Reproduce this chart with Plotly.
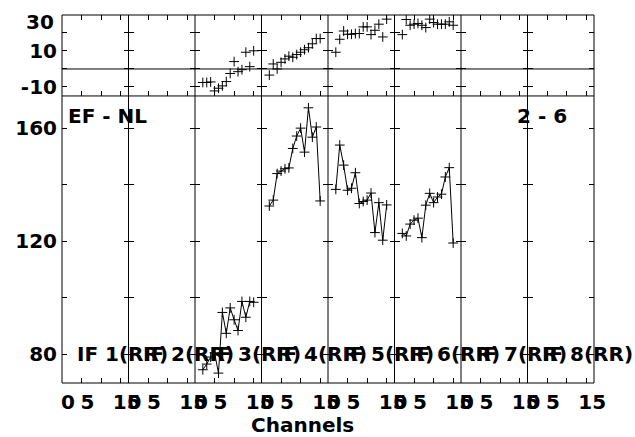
import plotly.graph_objects as go
from plotly.subplots import make_subplots

# ---------------- data ----------------
if_labels = ["IF 1(RR)", "IF 2(RR)", "IF 3(RR)", "IF 4(RR)",
             "IF 5(RR)", "IF 6(RR)", "IF 7(RR)", "IF 8(RR)"]
channels = [2, 3, 4, 5, 6, 7, 8, 9, 10, 11, 12, 13, 14, 15]

# top panel values, by IF index (1-based)
top_if3 = [-7.5, -7.5, -7.2, -12.2, -10.7, -9.4, -7.0, -2.5, 4.1, -1.5, -0.4, 9.3, 1.3, 10.1]
top_if4 = [-3.4, 2.8, 0.0, 3.7, 5.6, 7.1, 6.5, 8.0, 9.3, 10.7, 11.8, 14.0, 16.9, 16.9]
top_if5 = [9.3, 16.5, 21.1, 19.3, 19.3, 19.7, 19.7, 23.4, 23.4, 19.1, 21.5, 24.9, 17.8, 27.7]
top_if6 = [19.1, 27.5, 24.3, 24.9, 25.3, 24.3, 23.0, 27.7, 25.8, 24.9, 24.9, 24.9, 26.2, 24.3]

# bottom panel values
bot_if3 = [74.5, 76.5, 79.0, 80.5, 73.3, 94.8, 87.4, 96.4, 92.2, 88.4, 98.7, 93.1, 98.7, 98.4]
bot_if4 = [132.5, 134.6, 144.0, 144.9, 145.7, 146.0, 152.9, 157.3, 160.1, 151.6, 167.3, 156.9, 160.5, 134.3]
bot_if5 = [138.4, 154.1, 147.0, 138.1, 138.8, 144.3, 133.4, 134.1, 134.6, 137.1, 123.1, 133.7, 120.4, 132.9]
bot_if6 = [122.8, 121.9, 126.1, 127.5, 128.2, 121.3, 132.8, 137.0, 133.7, 135.7, 136.7, 142.8, 146.1, 119.4]

top_series = {3: top_if3, 4: top_if4, 5: top_if5, 6: top_if6}
bot_series = {3: bot_if3, 4: bot_if4, 5: bot_if5, 6: bot_if6}

x_tickvals = [0, 5, 10, 15]
x_ticktext = ["0", "5", "", "15"]
top_tickvals = [-10, 0, 10, 20, 30]
top_ticktext = ["-10", "", "10", "", ""]
top_max_label = "30"
bot_tickvals = [80, 100, 120, 140, 160]
bot_ticktext = ["80", "", "120", "", "160"]

corner_left = "EF - NL"
corner_right = "2 - 6"
x_title = "Channels"

# ---------------- figure ----------------
NCOL = 8
ROW_SPLIT = 0.78
fig = make_subplots(rows=2, cols=NCOL, row_heights=[1 - ROW_SPLIT, ROW_SPLIT],
                    horizontal_spacing=0, vertical_spacing=0)

FONT = "DejaVu Sans"
marker = dict(symbol="cross-thin", size=7, line=dict(color="black", width=1), color="black")

for row in (1, 2):
    series = top_series if row == 1 else bot_series
    for c in range(1, NCOL + 1):
        if c in series:
            fig.add_trace(go.Scatter(x=channels, y=series[c],
                                     mode="markers" if row == 1 else "lines+markers",
                                     marker=marker, line=dict(color="black", width=1),
                                     showlegend=False), row=row, col=c)
        else:
            fig.add_trace(go.Scatter(x=[None], y=[None], mode="markers",
                                     showlegend=False, hoverinfo="skip"), row=row, col=c)

tickfont = dict(family=FONT, size=20, color="black", weight="bold")
common = dict(ticks="inside", ticklen=5, tickcolor="black", showline=False,
              showgrid=False, zeroline=False, automargin=False)
for c in range(1, NCOL + 1):
    fig.update_xaxes(range=[0, 17], tickvals=x_tickvals, mirror="ticks",
                     showticklabels=False, row=1, col=c, **common)
    fig.update_xaxes(range=[0, 17], tickvals=x_tickvals, ticktext=x_ticktext,
                     mirror=False, tickfont=tickfont, ticklabelshift=6,
                     ticklabelstandoff=5, row=2, col=c, **common)
    fig.update_yaxes(range=[-15, 30], tickvals=top_tickvals, ticktext=top_ticktext,
                     mirror="ticks", showticklabels=(c == 1), tickfont=tickfont,
                     ticklabelstandoff=4, row=1, col=c, **common)
    fig.update_yaxes(range=[69.8, 171.5], tickvals=bot_tickvals, ticktext=bot_ticktext,
                     mirror="ticks", showticklabels=(c == 1), tickfont=tickfont,
                     ticklabelstandoff=4, row=2, col=c, **common)

# panel frames (single crisp lines shared by neighbouring panels)
frame = dict(color="black", width=1)
for k in range(NCOL + 1):
    fig.add_shape(type="line", xref="paper", yref="paper", x0=k / NCOL, x1=k / NCOL,
                  y0=0, y1=1, line=frame, layer="above")
for yy in (0, ROW_SPLIT, 1):
    fig.add_shape(type="line", xref="paper", yref="paper", x0=0, x1=1,
                  y0=yy, y1=yy, line=frame, layer="above")
# zero reference line across the top panel
fig.add_shape(type="line", xref="paper", yref="y", x0=0, x1=1, y0=0, y1=0,
              line=frame)

annfont = dict(family=FONT, size=20, color="black", weight="bold")
fig.add_annotation(text=top_max_label, xref="paper", yref="y", x=-0.012, y=26,
                   xanchor="right", yanchor="middle", showarrow=False, font=annfont)

for i, lab in enumerate(if_labels):
    n = NCOL + i + 1
    fig.add_annotation(text=lab, xref=f"x{n}", yref=f"y{n}", x=3.3, y=80,
                       xanchor="left", yanchor="middle", showarrow=False, font=annfont)

fig.add_annotation(text=corner_left, xref="x9", yref="y9", x=1.0, y=164.3,
                   xanchor="left", yanchor="middle", showarrow=False, font=annfont)
fig.add_annotation(text=corner_right, xref="x16", yref="y16", x=10.6, y=164.3,
                   xanchor="right", yanchor="middle", showarrow=False, font=annfont)
fig.add_annotation(text=x_title, xref="paper", yref="paper", x=0.452, y=-0.115,
                   xanchor="center", yanchor="middle", showarrow=False, font=annfont)

fig.update_layout(width=635, height=437, margin=dict(l=62, r=41, t=15, b=54),
                  paper_bgcolor="white", plot_bgcolor="white", showlegend=False)

fig.write_html("out.html", config={"displayModeBar": False},
               post_script="document.body.style.margin='0px';")
